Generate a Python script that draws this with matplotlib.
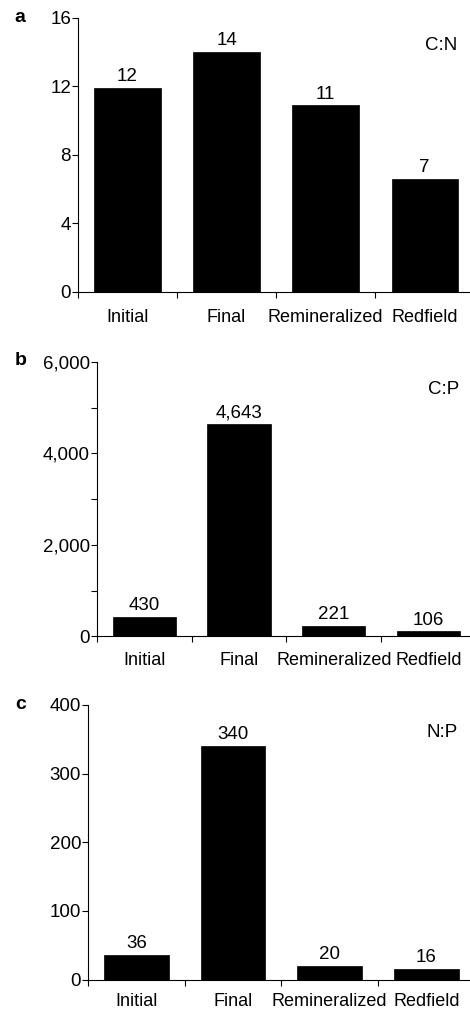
import matplotlib
matplotlib.use("Agg")
import matplotlib.pyplot as plt
from matplotlib.ticker import MultipleLocator, FuncFormatter

plt.rcParams['font.family'] = ['Liberation Sans', 'DejaVu Sans']

# data
categories = ['Initial', 'Final', 'Remineralized', 'Redfield']
cn_values = [11.9, 14.0, 10.9, 6.6]
cp_values = [430, 4643, 221, 106]
np_values = [36, 340, 20, 16]

panel_letters = ['a', 'b', 'c']
ratio_names = ['C:N', 'C:P', 'N:P']
ymax = [16, 6000, 400]
ystep = [4, 2000, 100]
yminor = [4, 1000, 100]

# axes rectangles (figure fraction) and where things sit
rects = [[0.166, 0.7112, 0.843, 0.271],
         [0.2064, 0.3706, 0.806, 0.2713],
         [0.1872, 0.0310, 0.823, 0.2717]]
letter_y = [0.983, 0.643, 0.303]
label_pad = [12, 11, 9.5]

fig = plt.figure(figsize=(4.70, 10.11), dpi=100)

all_values = [cn_values, cp_values, np_values]
x = list(range(len(categories)))

for i, vals in enumerate(all_values):
    ax = fig.add_axes(rects[i])
    bars = ax.bar(x, vals, width=0.67, color='black', edgecolor='black', linewidth=0.5)
    for b, v in zip(bars, vals):
        ax.annotate(f"{round(v):,}", (b.get_x() + b.get_width() / 2, b.get_height()),
                    xytext=(0, 2), textcoords='offset points',
                    ha='center', va='bottom', fontsize=13.5)
    ax.set_xlim(-0.5, 3.5)
    ax.set_ylim(0, ymax[i])
    ax.spines['top'].set_visible(False)
    ax.spines['right'].set_visible(False)
    ax.spines['left'].set_linewidth(0.8)
    ax.spines['bottom'].set_linewidth(0.8)

    # y axis
    ax.yaxis.set_major_locator(MultipleLocator(ystep[i]))
    ax.yaxis.set_minor_locator(MultipleLocator(yminor[i]))
    ax.yaxis.set_major_formatter(FuncFormatter(lambda v, p: f"{int(v):,}"))
    ax.tick_params(axis='y', which='both', direction='out', length=4, width=0.8,
                   pad=1, labelsize=13.5)

    # x axis: ticks on slot boundaries, labels in the middle
    ax.set_xticks([-0.5, 0.5, 1.5, 2.5])
    ax.set_xticklabels([])
    ax.set_xticks(x, minor=True)
    ax.set_xticklabels(categories, minor=True)
    ax.tick_params(axis='x', which='major', direction='out', length=4.5, width=0.8)
    ax.tick_params(axis='x', which='minor', length=0, pad=label_pad[i], labelsize=13)

    ax.text(0.957, 0.90, ratio_names[i], transform=ax.transAxes,
            ha='right', va='center', fontsize=13.5)
    fig.text(0.043, letter_y[i], panel_letters[i], ha='center', va='center',
             fontsize=14, fontweight='bold')

fig.savefig('out.png', dpi=100)
